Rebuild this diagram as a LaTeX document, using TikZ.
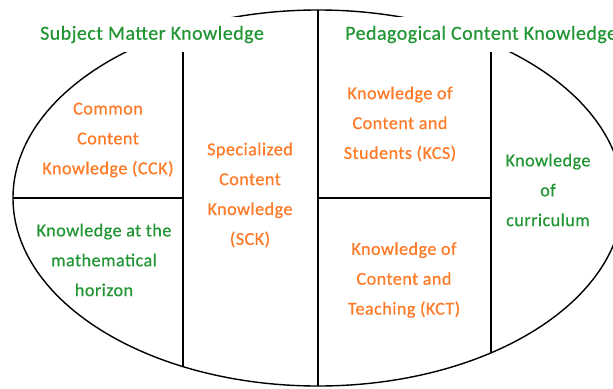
\documentclass[tikz,border=0pt]{standalone}
\usepackage{fontspec}
\setmainfont{Carlito}[LetterSpace=2.5,FakeBold=0.6]
\usetikzlibrary{positioning}

\definecolor{mkgreen}{RGB}{34,150,52}
\definecolor{mkorange}{RGB}{255,122,38}

\begin{document}
\begin{tikzpicture}[x=0.03cm,y=-0.03cm,line join=round]
    \clip (0,0) rectangle (613,388);
    \tikzset{wall/.style={line width=1.4pt}}
    \tikzset{title/.style={fill=white,text=mkgreen,inner xsep=0.27cm,minimum height=1.05cm,
        font=\fontsize{17}{20}\selectfont}}
    \tikzset{part/.style={align=center,font=\fontsize{15.5}{25.5}\selectfont}}

    \coordinate (C) at (318,198);
    \draw[line width=1.2pt] (C) ellipse [x radius=9.15cm, y radius=5.64cm];

    \begin{scope}
        \clip (C) ellipse [x radius=9.15cm, y radius=5.64cm];
        \draw[wall] (183,52) -- (183,388);
        \draw[wall] (318,0) -- (318,388);
        \draw[wall] (491,52) -- (491,388);
        \draw[wall] (0,198) -- (183,198);
        \draw[wall] (318,198) -- (491,198);
    \end{scope}

    \node[title] (SMK) at (152,34.5) {Subject Matter Knowledge};
    \node[title,anchor=west] (PCK) at (336,34.5) {Pedagogical Content Knowledge};

    \node[part,text=mkorange] (CCK) at (108,140) {Common\\Content\\Knowledge (CCK)};
    \node[part,text=mkorange] (SCK) at (250,195) {Specialized\\Content\\Knowledge\\(SCK)};
    \node[part,text=mkgreen] (HCK) at (104,260) {Knowledge at the\\mathematical\\horizon};
    \node[part,text=mkorange] (KCS) at (400,124) {Knowledge of\\Content and\\Students (KCS)};
    \node[part,text=mkorange] (KCT) at (404,280) {Knowledge of\\Content and\\Teaching (KCT)};
    \node[part,text=mkgreen] (KCC) at (548,190) {Knowledge\\of\\curriculum};

\end{tikzpicture}
\end{document}
